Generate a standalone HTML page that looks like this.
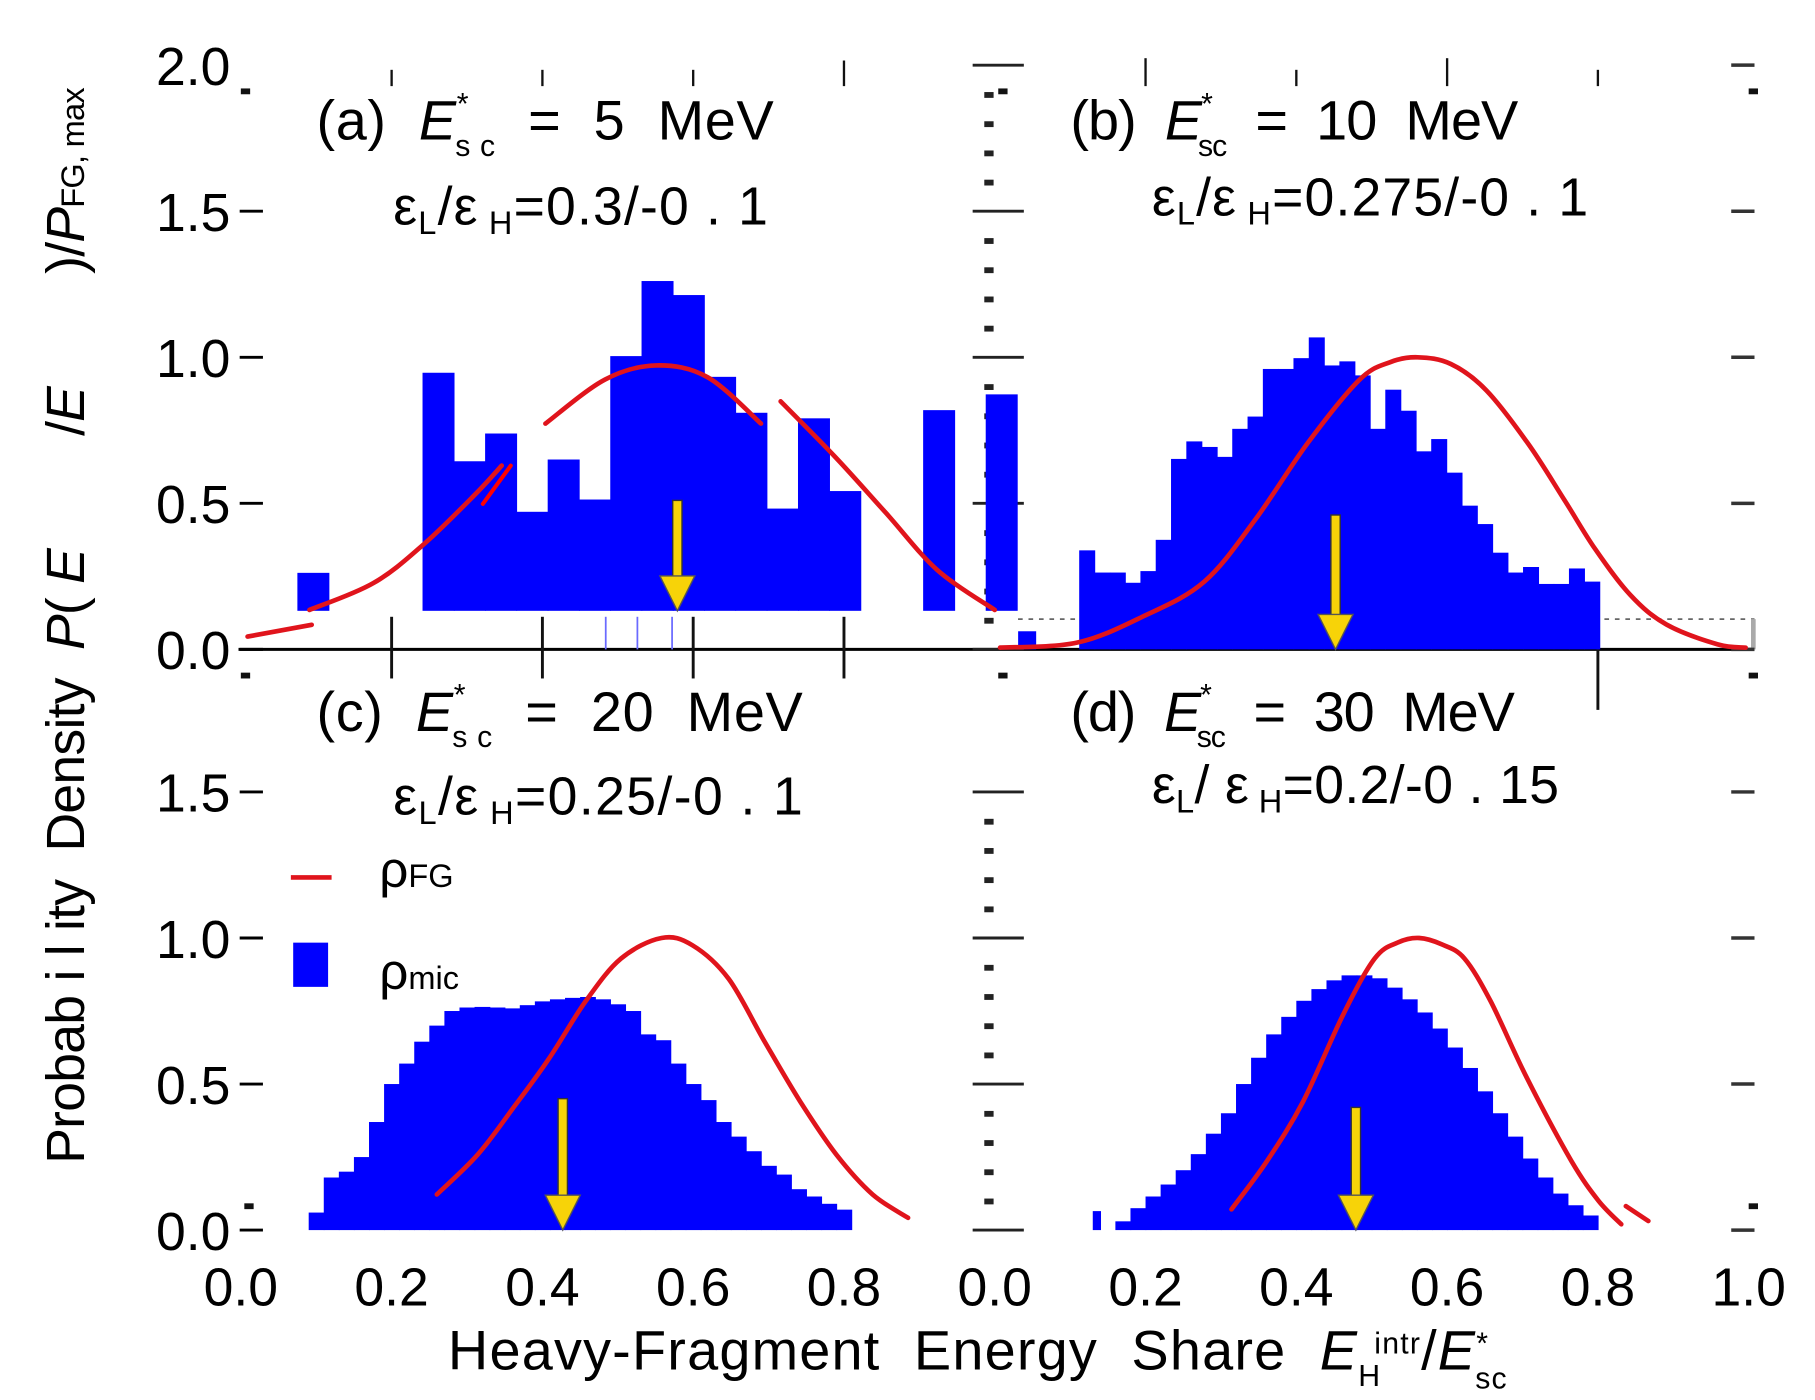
<!DOCTYPE html>
<html><head><meta charset="utf-8"><style>
html,body{margin:0;padding:0;background:#fff;}
svg{display:block;font-family:"Liberation Sans",sans-serif;}
text{white-space:pre;}
</style></head><body>
<svg id="chart" width="1815" height="1400" viewBox="0 0 1560 1203" preserveAspectRatio="none" xmlns="http://www.w3.org/2000/svg">
<g id="static">
  <line x1="205" y1="558" x2="1508" y2="558" stroke="#000" stroke-width="2.5"/>
  <line x1="875" y1="532" x2="1508" y2="532" stroke="#666" stroke-width="1.5" stroke-dasharray="4,5"/>
  <line x1="1507" y1="532" x2="1507" y2="558" stroke="#aaa" stroke-width="4"/>
  <text x="272" y="120" font-size="48" textLength="393" lengthAdjust="spacing">(a)  <tspan font-style="italic">E</tspan><tspan font-size="26" dy="-22">*</tspan><tspan font-size="26" dx="-12" dy="36">s c</tspan><tspan dy="-14">  =  5  MeV</tspan></text>
  <text x="338" y="193" font-size="46" textLength="322" lengthAdjust="spacing">ε<tspan font-size="28" dy="8">L</tspan><tspan dy="-8">/ε</tspan><tspan font-size="28" dy="8"> H</tspan><tspan dy="-8">=0.3/-0 . 1</tspan></text>
  <text x="920" y="120" font-size="48" textLength="385" lengthAdjust="spacing">(b)  <tspan font-style="italic">E</tspan><tspan font-size="26" dy="-22">*</tspan><tspan font-size="26" dx="-12" dy="36">sc</tspan><tspan dy="-14">  =  10  MeV</tspan></text>
  <text x="990" y="185" font-size="46" textLength="375" lengthAdjust="spacing">ε<tspan font-size="28" dy="8">L</tspan><tspan dy="-8">/ε</tspan><tspan font-size="28" dy="8"> H</tspan><tspan dy="-8">=0.275/-0 . 1</tspan></text>
  <text x="272" y="628" font-size="48" textLength="418" lengthAdjust="spacing">(c)  <tspan font-style="italic">E</tspan><tspan font-size="26" dy="-22">*</tspan><tspan font-size="26" dx="-12" dy="36">s c</tspan><tspan dy="-14">  =  20  MeV</tspan></text>
  <text x="338" y="700" font-size="46" textLength="352" lengthAdjust="spacing">ε<tspan font-size="28" dy="8">L</tspan><tspan dy="-8">/ε</tspan><tspan font-size="28" dy="8"> H</tspan><tspan dy="-8">=0.25/-0 . 1</tspan></text>
  <text x="920" y="628" font-size="48" textLength="382" lengthAdjust="spacing">(d)  <tspan font-style="italic">E</tspan><tspan font-size="26" dy="-22">*</tspan><tspan font-size="26" dx="-12" dy="36">sc</tspan><tspan dy="-14">  =  30  MeV</tspan></text>
  <text x="990" y="690" font-size="46" textLength="350" lengthAdjust="spacing">ε<tspan font-size="28" dy="8">L</tspan><tspan dy="-8">/ ε</tspan><tspan font-size="28" dy="8"> H</tspan><tspan dy="-8">=0.2/-0 . 15</tspan></text>
  <g>
    <line x1="250" y1="754" x2="285" y2="754" stroke="#e0141c" stroke-width="4"/>
    <text x="326" y="762" font-size="44">ρ<tspan font-size="28">FG</tspan></text>
    <rect x="252" y="810" width="30" height="38" fill="#0000ff"/>
    <text x="326" y="850" font-size="44">ρ<tspan font-size="28">mic</tspan></text>
  </g>
  <text x="385" y="1177" font-size="48" textLength="910" lengthAdjust="spacing">Heavy-Fragment  Energy  Share  <tspan font-style="italic">E</tspan><tspan font-size="26" dy="14">H</tspan><tspan font-size="26" dy="-28" dx="-6">intr</tspan><tspan dy="14">/</tspan><tspan font-style="italic">E</tspan><tspan font-size="26" dy="-14">*</tspan><tspan font-size="26" dx="-12" dy="30">sc</tspan></text>
  <text transform="translate(72,1000) rotate(-90)" font-size="46" textLength="925" lengthAdjust="spacing">Probab i l ity  Density  <tspan font-style="italic">P</tspan>( <tspan font-style="italic">E</tspan>        /<tspan font-style="italic">E</tspan>        )/<tspan font-style="italic">P</tspan><tspan font-size="28">FG, max</tspan></text>
</g>
<g id="ticks"></g>
<g id="marks"></g>
</svg>
<script>
// ---------- data ----------
const yTickValues = [0, 0.5, 1.0, 1.5, 2.0];
const yTickLabels = ["0.0", "0.5", "1.0", "1.5", "2.0"];
const yTickValuesBottom = [0, 0.5, 1.0, 1.5];
const yTickLabelsBottom = ["0.0", "0.5", "1.0", "1.5"];
const xTickLeft = [0, 0.2, 0.4, 0.6, 0.8];
const xTickLeftLabels = ["0.0", "0.2", "0.4", "0.6", "0.8"];
const xTickRight = [0, 0.2, 0.4, 0.6, 0.8, 1.0];
const xTickRightLabels = ["0.0", "0.2", "0.4", "0.6", "0.8", "1.0"];

const aBinLeft = [0.075, 0.241, 0.2825, 0.324, 0.3655, 0.407, 0.4485, 0.49, 0.5315, 0.573, 0.6145, 0.656, 0.6975, 0.739, 0.7805, 0.905, 0.988];
const aHeights = [0.262, 0.947, 0.644, 0.739, 0.471, 0.650, 0.513, 1.004, 1.261, 1.213, 0.933, 0.810, 0.482, 0.791, 0.542, 0.819, 0.873];
const aBinWidth = 0.0415;
const aBase = 0.132;
const aCurveX = [0.091, 0.176, 0.244, 0.312, 0.346, 0.404, 0.483, 0.551, 0.619, 0.690, 0.716, 0.789, 0.856, 0.924, 1.0];
const aCurveY = [0.135, 0.227, 0.363, 0.534, 0.629, 0.773, 0.924, 0.972, 0.932, 0.773, 0.849, 0.657, 0.466, 0.271, 0.135];
const aSegments = [[0, 4], [5, 9], [10, 14]];
const aStubX = [0.009, 0.094];
const aStubY = [0.044, 0.084];
const aSlashX = [0.321, 0.358];
const aSlashY = [0.498, 0.629];
const aArrow = [0.579, 0.51, 0.132];

const bBinStart = 0.112;
const bBinWidth = 0.0203;
const bHeights = [0.339, 0.263, 0.263, 0.228, 0.268, 0.375, 0.652, 0.712, 0.693, 0.659, 0.755, 0.797, 0.960, 0.960, 0.997, 1.068, 0.972, 0.986, 0.938, 0.755, 0.889, 0.817, 0.678, 0.720, 0.605, 0.492, 0.429, 0.331, 0.263, 0.282, 0.224, 0.224, 0.277, 0.232];
const bExtraBar = [0.031, 0.054, 0.062];
const bCurveX = [0.007, 0.109, 0.197, 0.278, 0.346, 0.415, 0.483, 0.524, 0.561, 0.605, 0.652, 0.707, 0.755, 0.796, 0.843, 0.891, 0.959, 0.996];
const bCurveY = [0.006, 0.023, 0.113, 0.232, 0.446, 0.706, 0.921, 0.983, 1.0, 0.977, 0.887, 0.706, 0.514, 0.345, 0.186, 0.085, 0.017, 0.006];
const bArrow = [0.452, 0.46, 0.0];

const cCenters = [0.10,0.12,0.14,0.16,0.18,0.20,0.22,0.24,0.26,0.28,0.30,0.32,0.34,0.36,0.38,0.40,0.42,0.44,0.46,0.48,0.50,0.52,0.54,0.56,0.58,0.60,0.62,0.64,0.66,0.68,0.70,0.72,0.74,0.76,0.78,0.80];
const cHeights = [0.06,0.18,0.20,0.25,0.37,0.50,0.57,0.645,0.70,0.75,0.762,0.764,0.762,0.759,0.77,0.783,0.79,0.795,0.798,0.79,0.773,0.75,0.67,0.65,0.57,0.50,0.445,0.37,0.32,0.27,0.22,0.19,0.14,0.115,0.09,0.07];
const cCurveX = [0.260, 0.314, 0.361, 0.409, 0.457, 0.504, 0.558, 0.599, 0.647, 0.695, 0.742, 0.790, 0.838, 0.885];
const cCurveY = [0.122, 0.258, 0.417, 0.588, 0.782, 0.929, 1.0, 0.975, 0.860, 0.644, 0.440, 0.258, 0.122, 0.042];
const cArrow = [0.427, 0.45, 0.0];

const dCenters = [0.17,0.19,0.21,0.23,0.25,0.27,0.29,0.31,0.33,0.35,0.37,0.39,0.41,0.43,0.45,0.47,0.49,0.51,0.53,0.55,0.57,0.59,0.61,0.63,0.65,0.67,0.69,0.71,0.73,0.75,0.77,0.79];
const dHeights = [0.03,0.075,0.115,0.156,0.205,0.26,0.33,0.40,0.50,0.59,0.67,0.73,0.785,0.825,0.855,0.872,0.872,0.862,0.83,0.79,0.745,0.69,0.625,0.555,0.475,0.40,0.32,0.245,0.18,0.125,0.085,0.05];
const dExtraBar = [0.13, 0.14, 0.065];
const dCurveX = [0.314, 0.361, 0.409, 0.462, 0.504, 0.535, 0.563, 0.593, 0.623, 0.658, 0.706, 0.765, 0.801, 0.831];
const dCurveY = [0.071, 0.236, 0.440, 0.737, 0.930, 0.985, 1.0, 0.978, 0.930, 0.782, 0.520, 0.236, 0.100, 0.020];
const dStubX = [0.837, 0.867];
const dStubY = [0.082, 0.031];
const dArrow = [0.479, 0.42, 0.0];

// ---------- scales ----------
const NS = "http://www.w3.org/2000/svg";
function xL(v){ return 207 + v * 648; }
function xR(v){ return 855 + v * 648; }
function yT(v){ return 558 - v * 251; }
function yB(v){ return 1057 - v * 251; }
const marks = document.getElementById('marks');
const ticks = document.getElementById('ticks');
function mk(tag, attrs, parent){
  const e = document.createElementNS(NS, tag);
  for (const k in attrs) e.setAttribute(k, attrs[k]);
  parent.appendChild(e);
  return e;
}

yTickValues.forEach((v, i) => {
  const t = mk('text', {x: 198, y: yT(v) + 17, 'font-size': 46, 'text-anchor': 'end'}, ticks);
  t.textContent = yTickLabels[i];
  
  
  if (v < 2) {
    const a = mk('line', {x1: 206, x2: 226, y1: yT(v), y2: yT(v), stroke: '#000', 'stroke-width': 2.5}, ticks);
    
    
  }
  const b = mk('line', {x1: 1488, x2: 1508, y1: yT(v), y2: yT(v), stroke: '#333', 'stroke-width': 3}, ticks);
  
  
  const c = mk('line', {x1: 836, x2: 880, y1: yT(v), y2: yT(v), stroke: '#222', 'stroke-width': 2.5}, ticks);
  
  
});
yTickValuesBottom.forEach((v, i) => {
  const t = mk('text', {x: 198, y: yB(v) + 17, 'font-size': 46, 'text-anchor': 'end'}, ticks);
  t.textContent = yTickLabelsBottom[i];
  
  
  const a = mk('line', {x1: 206, x2: 226, y1: yB(v), y2: yB(v), stroke: '#000', 'stroke-width': 2.5}, ticks);
  
  
  const b = mk('line', {x1: 1488, x2: 1508, y1: yB(v), y2: yB(v), stroke: '#333', 'stroke-width': 3}, ticks);
  
  
  const c = mk('line', {x1: 836, x2: 880, y1: yB(v), y2: yB(v), stroke: '#222', 'stroke-width': 2.5}, ticks);
  
  
});
for (let k = 1; k < 20; k++) {
  const v = k * 0.1;
  if (Math.abs(v * 2 - Math.round(v * 2)) < 1e-6) continue;
  const d = mk('rect', {x: 846, y: yT(v) - 2, width: 8, height: 5, fill: '#222'}, ticks);
  
  
  if (v < 1.6) {
    const e = mk('rect', {x: 846, y: yB(v) - 2, width: 8, height: 5, fill: '#222'}, ticks);
    
    
  }
}
xTickLeft.forEach((v, i) => {
  const t = mk('text', {x: xL(v), y: 1122, 'font-size': 46, 'text-anchor': 'middle'}, ticks);
  t.textContent = xTickLeftLabels[i];
  
  
  if (v > 0) {
    const l = mk('line', {x1: xL(v), x2: xL(v), y1: 530, y2: 583, stroke: '#111', 'stroke-width': 2.5}, ticks);
    
    
    const u = mk('line', {x1: xL(v), x2: xL(v), y1: v > 0.7 ? 52 : 60, y2: 74, stroke: '#111', 'stroke-width': 2}, ticks);
    
    
  }
});
xTickRight.forEach((v, i) => {
  const t = mk('text', {x: xR(v), y: 1122, 'font-size': 46, 'text-anchor': 'middle'}, ticks);
  t.textContent = xTickRightLabels[i];
  
  
  if (v > 0 && v < 1) {
    const u = mk('line', {x1: xR(v), x2: xR(v), y1: (v === 0.2 || v === 0.6) ? 50 : 60, y2: 74, stroke: '#111', 'stroke-width': 2}, ticks);
    
    
  }
});
const rt = mk('line', {x1: xR(0.8), x2: xR(0.8), y1: 530, y2: 610, stroke: '#111', 'stroke-width': 2.5}, ticks);


[[207,78],[207,580],[858,78],[858,580],[1503,78],[1503,580],[210,1036],[1503,1036]].forEach(p => {
  const r = mk('rect', {x: p[0], y: p[1] - 2, width: 8, height: 5, fill: '#111'}, ticks);
  
  
});

const BLUE = '#0000ff', RED = '#e0141c';
function bar(x0, x1, y0, y1, name){
  const r = mk('rect', {x: Math.min(x0, x1), y: Math.min(y0, y1), width: Math.abs(x1 - x0) + 0.6, height: Math.abs(y1 - y0), fill: BLUE}, marks);
  
  
}
function curve(xs, ys, from, to, sx, sy, name, color, w){
  let d = '';
  for (let i = from; i <= to; i++) d += (i === from ? 'M' : 'L') + sx(xs[i]).toFixed(1) + ',' + sy(ys[i]).toFixed(1);
  const p = mk('path', {d: d, fill: 'none', stroke: color || RED, 'stroke-width': w || 4, 'stroke-linejoin': 'round', 'stroke-linecap': 'round'}, marks);
  
  
}
function smooth(xs, ys, from, to, sx, sy, name){
  const pts = [];
  for (let i = from; i <= to; i++) pts.push([sx(xs[i]), sy(ys[i])]);
  let d = 'M' + pts[0][0] + ',' + pts[0][1];
  for (let i = 0; i < pts.length - 1; i++) {
    const p0 = pts[Math.max(0, i - 1)], p1 = pts[i], p2 = pts[i + 1], p3 = pts[Math.min(pts.length - 1, i + 2)];
    const c1x = p1[0] + (p2[0] - p0[0]) / 6, c1y = p1[1] + (p2[1] - p0[1]) / 6;
    const c2x = p2[0] - (p3[0] - p1[0]) / 6, c2y = p2[1] - (p3[1] - p1[1]) / 6;
    d += ' C' + c1x.toFixed(1) + ',' + c1y.toFixed(1) + ' ' + c2x.toFixed(1) + ',' + c2y.toFixed(1) + ' ' + p2[0].toFixed(1) + ',' + p2[1].toFixed(1);
  }
  const p = mk('path', {d: d, fill: 'none', stroke: RED, 'stroke-width': 4, 'stroke-linecap': 'round'}, marks);
  
  
}
function arrow(sx, sy, a, name){
  const x = sx(a[0]), yTop = sy(a[1]), yBot = sy(a[2]);
  const g = mk('g', {}, marks);
  
  
  mk('rect', {x: x - 4, y: yTop, width: 8, height: yBot - yTop - 28, fill: '#f7d308', stroke: '#333', 'stroke-width': 1.2}, g);
  mk('path', {d: 'M' + (x - 15) + ',' + (yBot - 30) + ' L' + (x + 15) + ',' + (yBot - 30) + ' L' + x + ',' + yBot + ' Z', fill: '#f7d308', stroke: '#555', 'stroke-width': 1.2}, g);
}

aBinLeft.forEach((l, i) => bar(xL(l), xL(l + aBinWidth), yT(aBase), yT(aHeights[i]), 'bar-a'));
[0.484, 0.526, 0.572].forEach(v => {
  const l = mk('line', {x1: xL(v), x2: xL(v), y1: 530, y2: 558, stroke: '#6a6aff', 'stroke-width': 1.5}, marks);
  
  
});
aSegments.forEach(s => smooth(aCurveX, aCurveY, s[0], s[1], xL, yT, 'curve-a-fg'));
curve(aStubX, aStubY, 0, 1, xL, yT, 'curve-a-stub');
curve(aSlashX, aSlashY, 0, 1, xL, yT, 'curve-a-slash', '#ff0000', 3.5);
arrow(xL, yT, aArrow, 'arrow-a');

bHeights.forEach((h, i) => bar(xR(bBinStart + i * bBinWidth), xR(bBinStart + (i + 1) * bBinWidth), yT(0), yT(h), 'bar-b'));
bar(xR(bExtraBar[0]), xR(bExtraBar[1]), yT(0), yT(bExtraBar[2]), 'bar-b-small');
smooth(bCurveX, bCurveY, 0, bCurveX.length - 1, xR, yT, 'curve-b-fg');
arrow(xR, yT, bArrow, 'arrow-b');

cCenters.forEach((c, i) => bar(xL(c - 0.01), xL(c + 0.01), yB(0), yB(cHeights[i]), 'bar-c'));
smooth(cCurveX, cCurveY, 0, cCurveX.length - 1, xL, yB, 'curve-c-fg');
arrow(xL, yB, cArrow, 'arrow-c');

dCenters.forEach((c, i) => bar(xR(c - 0.01), xR(c + 0.01), yB(0), yB(dHeights[i]), 'bar-d'));
bar(xR(dExtraBar[0]), xR(dExtraBar[1]), yB(0), yB(dExtraBar[2]), 'bar-d-small');
smooth(dCurveX, dCurveY, 0, dCurveX.length - 1, xR, yB, 'curve-d-fg');
curve(dStubX, dStubY, 0, 1, xR, yB, 'curve-d-stub');
arrow(xR, yB, dArrow, 'arrow-d');
</script>
</body></html>
